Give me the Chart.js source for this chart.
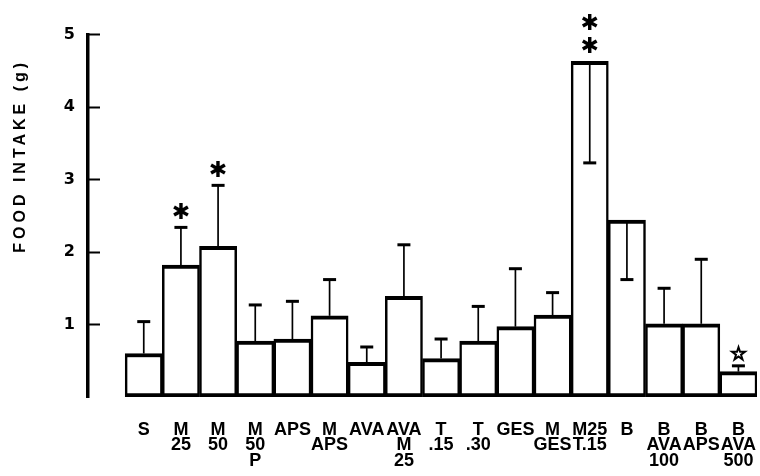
<!DOCTYPE html>
<html><head><meta charset="utf-8">
<script src="https://cdn.jsdelivr.net/npm/chart.js@4"></script>
<style>html,body{margin:0;padding:0;background:#fff}#wrap{width:760px;height:476px;position:relative}</style>
</head><body><div id="wrap"><canvas id="c"></canvas></div>
<script>
// Categories (first slot is the empty gap between the axis and the first bar)
const categories = ['', ['S'], ['M','25'], ['M','50'], ['M','50','P'], ['APS'], ['M','APS'], ['AVA'], ['AVA','M','25'], ['T','.15'], ['T','.30'], ['GES'], ['M','GES'], ['M25','T.15'], ['B'], ['B','AVA','100'], ['B','APS'], ['B','AVA','500']];
// Mean food intake (g)
const foodIntake = [null, 0.60, 1.82, 2.08, 0.77, 0.80, 1.12, 0.48, 1.39, 0.53, 0.77, 0.97, 1.13, 4.63, 2.44, 1.01, 1.01, 0.35];
// End value of each error bar
const errorEnd = [null, 1.04, 2.34, 2.92, 1.27, 1.32, 1.62, 0.69, 2.10, 0.80, 1.25, 1.77, 1.44, 3.23, 1.62, 1.50, 1.90, 0.43];
// Significance marks
const marks = ['', '', '✱', '✱', '', '', '', '', '', '', '', '', '', '✱✱', '', '', '', '☆'];
const yTicks = [1, 2, 3, 4, 5];
const yTitle = 'FOOD INTAKE (g)';

const errorBars = {
  id: 'errorBars',
  beforeDraw(chart) {
    const s = chart.scales.y;
    if (!s._wrappedTitle) {
      const orig = s.drawTitle;
      s.drawTitle = function () {
        const c = this.ctx;
        c.save();
        c.letterSpacing = '4px';
        c.translate(0, -60);
        orig.apply(this, arguments);
        c.restore();
      };
      s._wrappedTitle = true;
    }
  },
  afterDatasetsDraw(chart) {
    const ctx = chart.ctx, y = chart.scales.y;
    const meta = chart.getDatasetMeta(0);
    ctx.save();
    ctx.strokeStyle = '#000';
    ctx.fillStyle = '#000';
    meta.data.forEach((bar, i) => {
      if (foodIntake[i] == null) return;
      const cx = bar.x;
      const y0 = y.getPixelForValue(foodIntake[i]);
      const y1 = y.getPixelForValue(errorEnd[i]);
      ctx.lineWidth = 1.7;
      ctx.beginPath(); ctx.moveTo(cx, y0); ctx.lineTo(cx, y1); ctx.stroke();
      ctx.lineWidth = 3;
      ctx.beginPath(); ctx.moveTo(cx - 6.5, y1); ctx.lineTo(cx + 6.5, y1); ctx.stroke();
      const m = marks[i];
      if (m) {
        const top = Math.min(y0, y1);
        const chars = Array.from(m);
        ctx.textAlign = 'center';
        ctx.textBaseline = 'middle';
        chars.forEach((ch, k) => {
          if (ch === '☆') {
            ctx.font = 'bold 19px "DejaVu Sans"';
            ctx.lineWidth = 1.4;
            ctx.fillText(ch, cx, top - 11);
            ctx.strokeText(ch, cx, top - 11);
          } else {
            ctx.font = '22px "DejaVu Sans"';
            ctx.fillText(ch, cx, top - 14 - (chars.length - 1 - k) * 23);
          }
        });
      }
    });
    ctx.restore();
  }
};

new Chart(document.getElementById('c'), {
  type: 'bar',
  data: {
    labels: categories,
    datasets: [{
      data: foodIntake,
      backgroundColor: '#fff',
      borderColor: '#000',
      borderWidth: {top: 4, left: 2.5, right: 2.5, bottom: 4},
      borderSkipped: false,
      categoryPercentage: 1,
      barPercentage: 1
    }]
  },
  options: {
    responsive: true,
    maintainAspectRatio: false,
    animation: false,
    layout: {padding: {top: 26, right: 3, bottom: 0, left: 0}},
    plugins: {legend: {display: false}, tooltip: {enabled: false}},
    scales: {
      x: {
        offset: true,
        grid: {display: false, drawTicks: false},
        border: {display: false},
        ticks: {
          color: '#000', autoSkip: false, maxRotation: 0, padding: 25,
          font: {family: '"Liberation Sans", Arial, sans-serif', weight: 'bold', size: 18, lineHeight: 0.87}
        },
        afterFit: s => { s.height = 79; s.paddingLeft = 0; s.paddingRight = 0; }
      },
      y: {
        min: 0, max: 5,
        afterBuildTicks: s => { s.ticks = yTicks.map(v => ({value: v})); },
        afterFit: s => { s.width = 88; },
        border: {display: true, color: '#000', width: 3.5},
        grid: {display: true, drawOnChartArea: false, drawTicks: true, tickLength: -12, tickWidth: 2, tickColor: '#000', color: '#000'},
        ticks: {
          color: '#000', padding: 25,
          font: {family: '"DejaVu Sans", sans-serif', weight: 'bold', size: 16}
        },
        title: {
          display: true, text: yTitle, color: '#000', padding: {top: 11, bottom: 0},
          font: {family: '"Liberation Sans", Arial, sans-serif', weight: 'bold', size: 16}
        }
      }
    }
  },
  plugins: [errorBars]
});
</script>
</body></html>
